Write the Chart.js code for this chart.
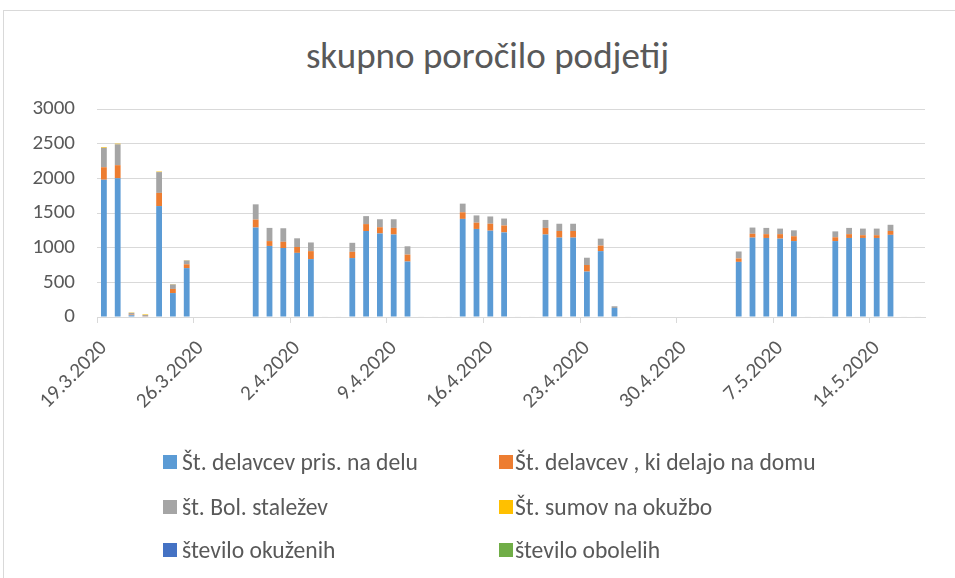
<!DOCTYPE html>
<html>
<head>
<meta charset="utf-8">
<script src="https://cdn.jsdelivr.net/npm/chart.js@4.4.1/dist/chart.umd.min.js"></script>
<style>
  html, body { margin: 0; padding: 0; background: #fff; }
  body { width: 955px; height: 578px; position: relative; overflow: hidden; font-family: Carlito, Lato, "Open Sans", sans-serif; color: #595959; }
  #frame { position: absolute; left: 3px; top: 10px; width: 980px; height: 620px; border: 1px solid #d9d9d9; box-sizing: border-box; }
  #title { position: absolute; left: 0; width: 975px; top: 33px; text-align: center; font-size: 37px; line-height: 46px; color: #595959; }
  canvas { position: absolute; left: 0; top: 0; }
  .lg { position: absolute; font-size: 23.6px; line-height: 26px; white-space: nowrap; color: #595959; }
  .lg i { position: absolute; width: 14px; height: 14px; left: -19px; top: 6px; }
</style>
</head>
<body>
<div id="frame"></div>
<div id="title">skupno poročilo podjetij</div>
<canvas id="c" width="955" height="578"></canvas>
<div id="legend"></div>
<script>
const categories = [
  "19.3.2020","20.3.2020","21.3.2020","22.3.2020","23.3.2020","24.3.2020","25.3.2020",
  "26.3.2020","27.3.2020","28.3.2020","29.3.2020","30.3.2020","31.3.2020","1.4.2020",
  "2.4.2020","3.4.2020","4.4.2020","5.4.2020","6.4.2020","7.4.2020","8.4.2020",
  "9.4.2020","10.4.2020","11.4.2020","12.4.2020","13.4.2020","14.4.2020","15.4.2020",
  "16.4.2020","17.4.2020","18.4.2020","19.4.2020","20.4.2020","21.4.2020","22.4.2020",
  "23.4.2020","24.4.2020","25.4.2020","26.4.2020","27.4.2020","28.4.2020","29.4.2020",
  "30.4.2020","1.5.2020","2.5.2020","3.5.2020","4.5.2020","5.5.2020","6.5.2020",
  "7.5.2020","8.5.2020","9.5.2020","10.5.2020","11.5.2020","12.5.2020","13.5.2020",
  "14.5.2020","15.5.2020","16.5.2020","17.5.2020"
];
const tickLabels = ["19.3.2020","26.3.2020","2.4.2020","9.4.2020","16.4.2020","23.4.2020","30.4.2020","7.5.2020","14.5.2020"];
const yTicks = [0, 500, 1000, 1500, 2000, 2500, 3000];

const naDelu = [
  1980,2000,25,10,1600,345,705,
  null,null,null,null,1290,1025,995,
  925,835,0,0,850,1240,1205,
  1190,800,0,0,0,1415,1270,
  1245,1220,0,0,1190,1145,1145,
  655,950,130,0,null,null,null,
  null,null,null,null,795,1145,1140,
  1130,1095,0,0,1095,1140,1140,
  1140,1185,0,0
];
const naDomu = [
  180,190,10,5,190,60,55,
  null,null,null,null,115,70,90,
  85,115,0,0,90,100,90,
  95,100,0,0,0,95,90,
  100,100,0,0,95,95,95,
  95,80,0,0,null,null,null,
  null,null,null,null,50,55,55,
  65,70,0,0,55,55,40,
  40,55,0,0
];
const bolStalezi = [
  280,300,25,15,300,65,55,
  null,null,null,null,220,190,195,
  125,125,8,8,130,115,115,
  125,120,8,8,8,125,105,
  105,100,8,8,115,105,105,
  105,100,25,8,null,null,null,
  null,null,null,null,100,90,90,
  80,85,8,8,85,90,95,
  95,90,8,8
];
const sumi = [
  10,10,5,8,8,5,5,
  null,null,null,null,0,0,0,
  0,0,0,0,0,0,0,
  0,0,0,0,0,0,0,
  0,0,0,0,0,0,0,
  0,0,0,0,null,null,null,
  null,null,null,null,0,0,0,
  0,0,0,0,0,0,0,
  0,0,0,0
];
const okuzeni = [
  0,0,0,0,0,0,0,
  null,null,null,null,0,0,0,
  0,0,0,0,0,0,0,
  0,0,0,0,0,0,0,
  0,0,0,0,0,0,0,
  0,0,0,0,null,null,null,
  null,null,null,null,0,0,0,
  0,0,0,0,0,0,0,
  0,0,0,0
];
const oboleli = okuzeni.slice();

const seriesNames = [
  "Št. delavcev pris. na delu",
  "Št. delavcev , ki delajo na domu",
  "št. Bol. staležev",
  "Št. sumov na okužbo",
  "število okuženih",
  "število obolelih"
];
const seriesColors = ["#5B9BD5","#ED7D31","#A5A5A5","#FFC000","#4472C4","#70AD47"];
const seriesData = [naDelu, naDomu, bolStalezi, sumi, okuzeni, oboleli];

const FONT = 'Carlito, Lato, "Open Sans", sans-serif';

new Chart(document.getElementById('c'), {
  type: 'bar',
  data: {
    labels: categories,
    datasets: seriesData.map((d, k) => ({
      label: seriesNames[k],
      data: d,
      backgroundColor: seriesColors[k],
      borderWidth: 0,
      categoryPercentage: 1.0,
      barPercentage: 0.42
    }))
  },
  options: {
    responsive: false,
    animation: false,
    layout: { padding: { top: 109, right: 30, bottom: 141, left: 0 } },
    plugins: { legend: { display: false }, title: { display: false }, tooltip: { enabled: false } },
    scales: {
      x: {
        stacked: true,
        offset: true,
        afterFit(scale) { scale.height = 120; },
        grid: {
          offset: true,
          drawOnChartArea: false,
          drawTicks: true,
          tickLength: 6,
          lineWidth: 1,
          color: (ctx) => (ctx.index % 7 === 0 ? '#d9d9d9' : 'rgba(0,0,0,0)')
        },
        border: { display: true, color: '#d9d9d9', width: 1 },
        ticks: {
          autoSkip: false,
          maxRotation: 45,
          minRotation: 45,
          labelOffset: 0,
          padding: 13,
          color: '#595959',
          font: { family: FONT, size: 21 },
          callback: function(v, i) {
            const lab = this.getLabelForValue(v);
            return tickLabels.includes(lab) ? lab : '';
          }
        }
      },
      y: {
        stacked: true,
        min: yTicks[0],
        max: yTicks[yTicks.length - 1],
        afterFit(scale) { scale.width = 97; },
        afterBuildTicks(scale) { scale.ticks = yTicks.map(v => ({ value: v })); },
        grid: { color: '#d9d9d9', lineWidth: 1, drawTicks: false },
        border: { display: false },
        ticks: {
          padding: 22,
          color: '#595959',
          font: { family: FONT, size: 21 },
          callback: (v) => String(v)
        }
      }
    }
  }
});

// Legend as real text, 2 columns x 3 rows
const legendPos = [[182, 449], [515, 449], [182, 494], [515, 494], [182, 537], [515, 537]];
const lg = document.getElementById('legend');
seriesNames.forEach((name, k) => {
  const d = document.createElement('div');
  d.className = 'lg';
  d.style.left = legendPos[k][0] + 'px';
  d.style.top = legendPos[k][1] + 'px';
  const sw = document.createElement('i');
  sw.style.background = seriesColors[k];
  if (k % 2 === 1) sw.style.left = '-16px';
  d.appendChild(sw);
  d.appendChild(document.createTextNode(name));
  lg.appendChild(d);
});
</script>
</body>
</html>
